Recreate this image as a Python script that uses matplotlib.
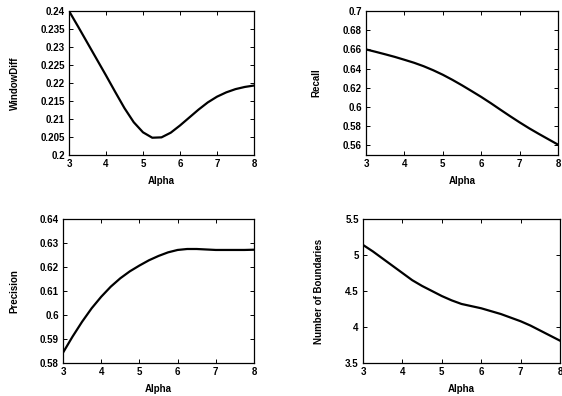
import matplotlib
matplotlib.use("Agg")
import matplotlib.pyplot as plt
from matplotlib.ticker import FuncFormatter

plt.rcParams['font.family'] = ['Liberation Sans', 'DejaVu Sans']
plt.rcParams['font.weight'] = 'bold'
plt.rcParams['axes.labelweight'] = 'bold'
plt.rcParams['font.size'] = 7

alpha = [3, 3.25, 3.5, 3.75, 4, 4.25, 4.5, 4.75, 5, 5.25, 5.5,
         5.75, 6, 6.25, 6.5, 6.75, 7, 7.25, 7.5, 7.75, 8]
window_diff = [0.2400, 0.2356, 0.2311, 0.2266, 0.2221, 0.2175, 0.2130, 0.2091, 0.2063, 0.2048, 0.2049,
               0.2062, 0.2082, 0.2104, 0.2126, 0.2146, 0.2162, 0.2174, 0.2183, 0.2189, 0.2193]
recall = [0.6600, 0.6575, 0.6549, 0.6522, 0.6492, 0.6461, 0.6425, 0.6383, 0.6336, 0.6283, 0.6226,
          0.6166, 0.6105, 0.6040, 0.5972, 0.5905, 0.5840, 0.5778, 0.5720, 0.5664, 0.5608]
precision = [0.5843, 0.5910, 0.5972, 0.6028, 0.6076, 0.6118, 0.6153, 0.6182, 0.6206, 0.6228, 0.6246,
             0.6261, 0.6271, 0.6275, 0.6275, 0.6273, 0.6271, 0.6271, 0.6271, 0.6271, 0.6272]
boundaries = [5.14, 5.05, 4.95, 4.85, 4.75, 4.65, 4.57, 4.50, 4.43, 4.37, 4.32,
              4.29, 4.26, 4.22, 4.18, 4.13, 4.08, 4.02, 3.95, 3.88, 3.81]

W, H = 562, 396
fig = plt.figure(figsize=(W / 100, H / 100), dpi=100)


def px_axes(left, top, right, bottom):
    return fig.add_axes([left / W, 1 - bottom / H, (right - left) / W, (bottom - top) / H])


def g_fmt(v, pos):
    return "%g" % round(v, 6)


panels = [
    ((69, 11, 254, 155), window_diff, "WindowDiff", (0.2, 0.24), [0.2 + 0.005 * i for i in range(9)]),
    ((366, 11, 558, 155), recall, "Recall", (0.55, 0.7), [0.56 + 0.02 * i for i in range(8)]),
    ((63, 219, 254, 363), precision, "Precision", (0.58, 0.64), [0.58 + 0.01 * i for i in range(7)]),
    ((363, 219, 560, 363), boundaries, "Number of Boundaries", (3.5, 5.5), [3.5, 4, 4.5, 5, 5.5]),
]

for box, ys, label, ylim, yticks in panels:
    ax = px_axes(*box)
    ax.plot(alpha, ys, color='black', linewidth=1.6)
    ax.set_xlim(3, 8)
    ax.set_ylim(*ylim)
    ax.set_xticks([3, 4, 5, 6, 7, 8])
    ax.set_yticks(yticks)
    ax.yaxis.set_major_formatter(FuncFormatter(g_fmt))
    ax.tick_params(direction='in', length=3, width=0.7, top=True, right=True, pad=3)
    for t in ax.get_xticklabels() + ax.get_yticklabels():
        t.set_fontweight('bold')
    for s in ax.spines.values():
        s.set_linewidth(0.9)
    ax.set_xlabel("Alpha", labelpad=5, fontweight='bold')
    ax.set_ylabel(label, labelpad=15, fontweight='bold')

fig.savefig("out.png", dpi=100)
